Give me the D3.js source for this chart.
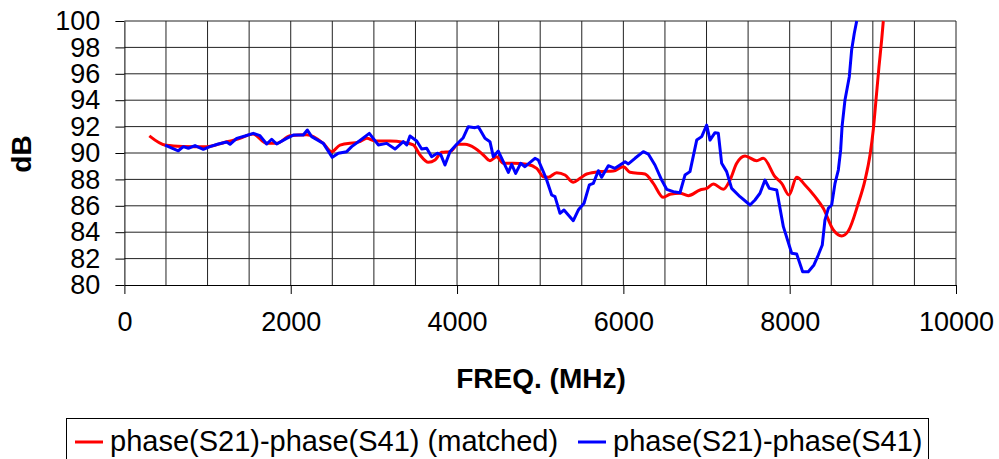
<!DOCTYPE html>
<html>
<head>
<meta charset="utf-8">
<script src="https://cdn.jsdelivr.net/npm/d3@7"></script>
<style>
body { margin: 0; background: #fff; }
text { font-family: "Liberation Sans", Arial, sans-serif; fill: #000; }
</style>
</head>
<body>
<script>
var width = 999,
    height = 459;

// frequency (MHz) and dB readings
var redFreq = [300, 500, 700, 990, 1200, 1390, 1547, 1711, 1831, 1991, 2192, 2392, 2493, 2593, 2833, 2914, 3014, 3194, 3354, 3474,
    3555, 3655, 3735, 3815, 3915, 4015, 4096, 4216, 4316, 4396, 4476, 4556, 4677, 4837, 4958, 5038, 5097, 5198, 5298, 5398,
    5479, 5559, 5719, 5879, 5999, 6080, 6260, 6360, 6480, 6561, 6681, 6781, 6922, 7002, 7082, 7202, 7282, 7363, 7463, 7603,
    7683, 7824, 7904, 7992, 8084, 8184, 8305, 8404, 8525, 8625, 8705, 8825, 8906, 8966, 9006, 9038, 9074, 9106, 9126];
var redDb = [91.3, 90.58, 90.5, 90.48, 90.8, 91.11, 91.44, 90.73, 90.73, 91.3, 91.39, 90.73, 90.1, 90.6, 90.86, 91.11, 90.91, 90.91, 90.81, 90.61,
    89.85, 89.3, 89.47, 90.05, 90.1, 90.66, 90.66, 90.36, 89.85, 89.42, 89.72, 89.22, 89.22, 89.14, 88.84, 88.2, 88.16, 88.51, 88.33, 87.78,
    88.08, 88.41, 88.59, 88.64, 88.96, 88.54, 88.41, 87.7, 86.64, 86.87, 86.95, 86.77, 87.2, 87.32, 87.65, 87.25, 87.95, 89.22, 89.77, 89.42,
    89.6, 88.2, 87.7, 86.82, 88.16, 87.58, 86.69, 85.81, 84.17, 83.71, 84.09, 86.19, 87.95, 89.85, 91.8, 94.02, 96.54, 98.56, 100];

var blueFreq = [488, 648, 709, 769, 849, 949, 1029, 1129, 1230, 1270, 1350, 1450, 1550, 1630, 1711, 1771, 1831, 1951, 2031, 2151,
    2200, 2252, 2392, 2500, 2572, 2673, 2733, 2833, 2945, 3053, 3154, 3254, 3354, 3395, 3434, 3515, 3575, 3635, 3695, 3763,
    3803, 3855, 3915, 3996, 4075, 4135, 4216, 4256, 4336, 4396, 4436, 4496, 4556, 4617, 4657, 4705, 4765, 4817, 4937, 4977,
    5038, 5078, 5138, 5178, 5238, 5286, 5338, 5398, 5458, 5527, 5591, 5639, 5699, 5739, 5819, 5899, 6020, 6060, 6140, 6240,
    6300, 6380, 6461, 6521, 6601, 6681, 6741, 6801, 6882, 6942, 7002, 7042, 7102, 7142, 7182, 7242, 7302, 7403, 7523, 7583,
    7643, 7703, 7755, 7844, 7924, 8024, 8084, 8156, 8224, 8292, 8344, 8392, 8424, 8465, 8505, 8545, 8585, 8613, 8630, 8665,
    8717, 8745, 8777, 8806];
var blueDb = [90.6, 90.17, 90.48, 90.36, 90.56, 90.28, 90.48, 90.68, 90.83, 90.66, 91.11, 91.29, 91.49, 91.31, 90.68, 91.04, 90.68, 91.11, 91.36, 91.36,
    91.74, 91.24, 90.73, 89.67, 89.98, 90.1, 90.48, 90.95, 91.49, 90.61, 90.73, 90.3, 90.86, 90.61, 91.29, 90.91, 90.3, 90.36, 89.72, 89.98,
    89.9, 89.09, 90.1, 90.66, 91.16, 91.99, 91.92, 91.99, 91.11, 90.86, 89.72, 90.15, 89.34, 88.53, 89.14, 88.46, 89.22, 88.96, 89.6, 89.47,
    88.58, 87.95, 86.82, 86.69, 85.43, 85.68, 85.3, 84.87, 85.68, 86.19, 87.58, 87.7, 88.66, 88.16, 89.04, 88.84, 89.34, 89.17, 89.6, 90.1,
    89.92, 89.09, 87.95, 87.25, 87.07, 86.99, 88.33, 88.59, 90.98, 91.24, 92.12, 90.98, 91.54, 91.49, 89.22, 88.59, 87.32, 86.69, 86.06, 86.44,
    86.95, 87.95, 87.32, 87.2, 84.42, 82.4, 82.35, 81.01, 81.01, 81.52, 82.27, 83.03, 84.92, 85.81, 86.06, 87.7, 88.71, 90.23, 92.0, 94.02,
    95.78, 97.8, 99.07, 100];

var xTicks = [0, 2000, 4000, 6000, 8000, 10000];
var yTicks = [80, 82, 84, 86, 88, 90, 92, 94, 96, 98, 100];
var seriesNames = ["phase(S21)-phase(S41) (matched)", "phase(S21)-phase(S41)"];
var seriesColors = ["#ff0000", "#0000ff"];

var svg = d3.select('body')
    .append('svg')
    .attr('width', width)
    .attr('height', height);

var x = d3.scaleLinear().domain([0, 10000]).range([124.4, 956]);
var y = d3.scaleLinear().domain([80, 100]).range([285, 21]);

// grid
var grid = svg.append('g');
grid.selectAll('.vg')
    .data(d3.range(500, 10001, 500))
    .enter()
    .append('line')
    .attr('x1', d => x(d)).attr('x2', d => x(d))
    .attr('y1', y(80)).attr('y2', y(100))
    .attr('stroke', '#222');
grid.selectAll('.hg')
    .data(yTicks.slice(1))
    .enter()
    .append('line')
    .attr('x1', x(0)).attr('x2', x(10000))
    .attr('y1', d => y(d)).attr('y2', d => y(d))
    .attr('stroke', '#222');

// axes
var yAxis = svg.append('g')
    .attr('transform', 'translate(' + x(0) + ',0)')
    .call(d3.axisLeft(y).tickValues(yTicks).tickSize(9).tickSizeOuter(0).tickPadding(15));
var xAxis = svg.append('g')
    .attr('transform', 'translate(0,' + y(80) + ')')
    .call(d3.axisBottom(x).tickValues(xTicks).tickFormat(d3.format('d')).tickSize(9).tickSizeOuter(0).tickPadding(18));
[xAxis, yAxis].forEach(a => {
    a.selectAll('path, line').attr('stroke', '#000');
    a.selectAll('text').attr('font-size', 27).attr('font-family', '"Liberation Sans", Arial, sans-serif').attr('fill', '#000');
});

// lines
svg.append('clipPath').attr('id', 'clip')
    .append('rect').attr('x', x(0)).attr('y', y(100) - 1).attr('width', x(10000) - x(0)).attr('height', y(80) - y(100) + 1);

var redLine = d3.line().x((d, i) => x(redFreq[i])).y(d => y(d)).curve(d3.curveMonotoneX);
var blueLine = d3.line().x((d, i) => x(blueFreq[i])).y(d => y(d));

var lines = svg.append('g').attr('clip-path', 'url(#clip)');
lines.append('path').attr('d', redLine(redDb))
    .attr('fill', 'none').attr('stroke', seriesColors[0]).attr('stroke-width', 3).attr('stroke-linejoin', 'round');
lines.append('path').attr('d', blueLine(blueDb))
    .attr('fill', 'none').attr('stroke', seriesColors[1]).attr('stroke-width', 3).attr('stroke-linejoin', 'round');

// axis titles
svg.append('text')
    .attr('x', 541).attr('y', 388)
    .attr('text-anchor', 'middle')
    .attr('font-size', 28).attr('font-weight', 'bold')
    .text('FREQ. (MHz)');
svg.append('text')
    .attr('transform', 'translate(31,154) rotate(-90)')
    .attr('text-anchor', 'middle')
    .attr('font-size', 28).attr('font-weight', 'bold')
    .text('dB');

// legend
var lg = svg.append('g');
lg.append('rect')
    .attr('x', 66.5).attr('y', 418.5).attr('width', 862).attr('height', 60)
    .attr('fill', '#fff').attr('stroke', '#000');
var legX = [75, 578];
seriesNames.forEach((n, i) => {
    lg.append('line')
        .attr('x1', legX[i]).attr('x2', legX[i] + 28)
        .attr('y1', 442).attr('y2', 442)
        .attr('stroke', seriesColors[i]).attr('stroke-width', 3);
    lg.append('text')
        .attr('x', legX[i] + 35).attr('y', 451)
        .attr('font-size', 29)
        .text(n);
});
</script>
</body>
</html>
